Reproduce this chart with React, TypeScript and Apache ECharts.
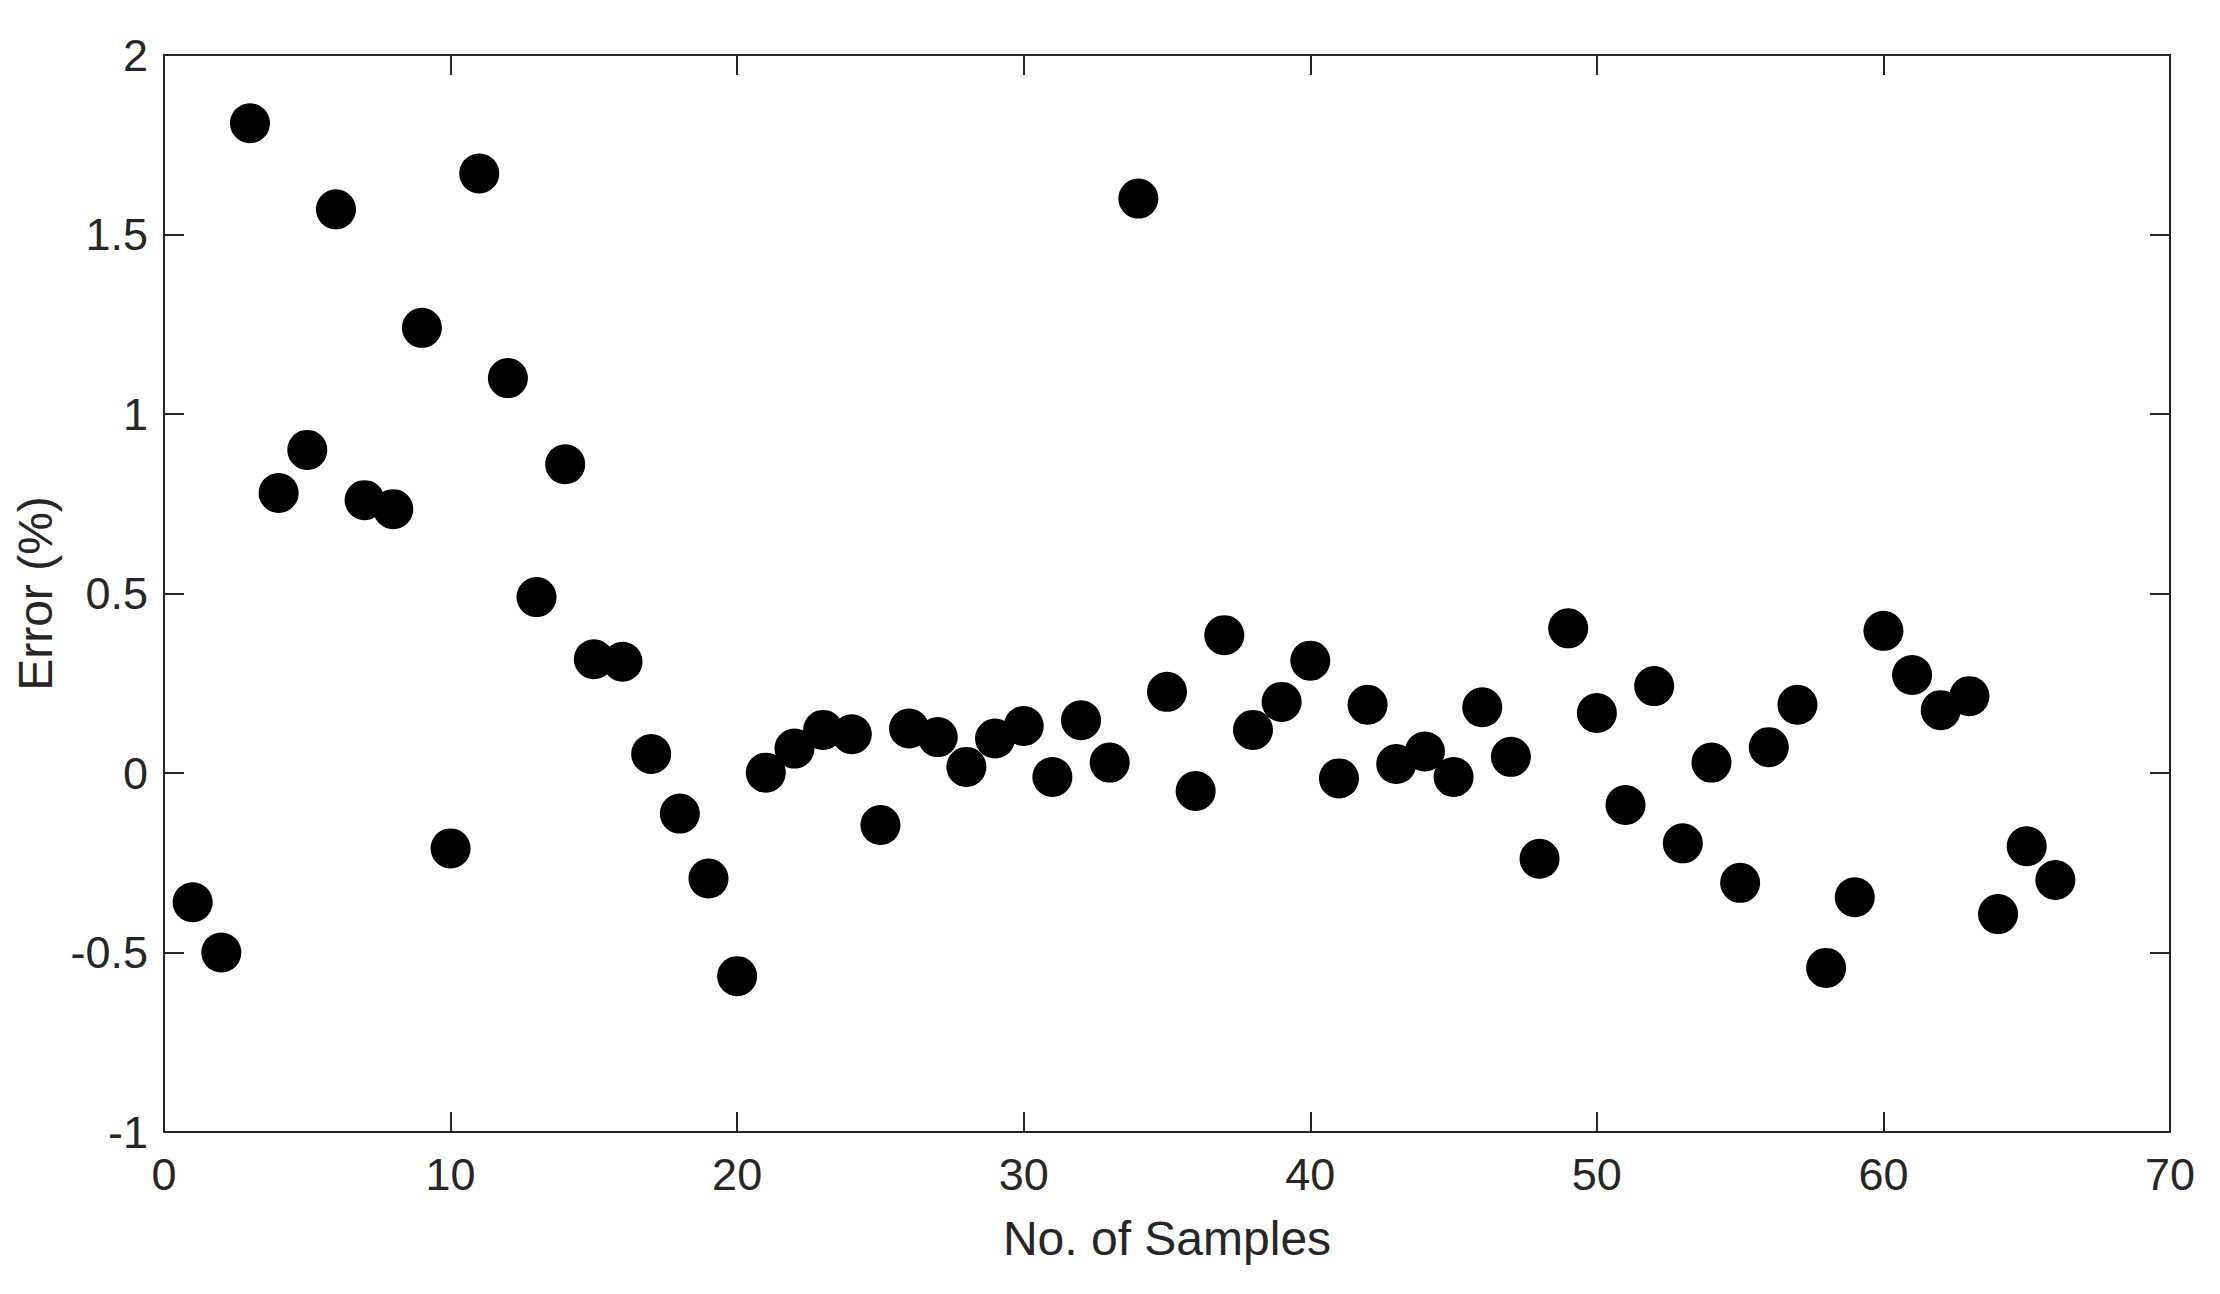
import React, { useEffect, useRef } from "react";
import * as echarts from "echarts";

const sampleNo: number[] = [
  1, 2, 3, 4, 5, 6, 7, 8, 9, 10, 11, 12, 13, 14, 15, 16, 17, 18, 19, 20, 21, 22,
  23, 24, 25, 26, 27, 28, 29, 30, 31, 32, 33, 34, 35, 36, 37, 38, 39, 40, 41, 42,
  43, 44, 45, 46, 47, 48, 49, 50, 51, 52, 53, 54, 55, 56, 57, 58, 59, 60, 61, 62,
  63, 64, 65, 66,
];

const errorPct: number[] = [
  -0.36, -0.5, 1.81, 0.78, 0.9, 1.57, 0.76, 0.735, 1.24, -0.21, 1.67, 1.1,
  0.49, 0.86, 0.317, 0.31, 0.053, -0.113, -0.294, -0.566, 0.001, 0.068, 0.12,
  0.108, -0.145, 0.124, 0.1, 0.017, 0.096, 0.131, -0.011, 0.147, 0.029, 1.6,
  0.226, -0.05, 0.384, 0.12, 0.198, 0.313, -0.015, 0.19, 0.025, 0.06, -0.011,
  0.183, 0.045, -0.239, 0.403, 0.167, -0.089, 0.242, -0.196, 0.029, -0.306,
  0.072, 0.19, -0.543, -0.346, 0.396, 0.273, 0.175, 0.214, -0.393, -0.204,
  -0.298,
];

const xRange = { min: 0, max: 70, interval: 10 };
const yRange = { min: -1, max: 2, interval: 0.5 };

const FONT = "'Liberation Sans', Arial, Helvetica, sans-serif";
const INK = "#262626";

export default function App() {
  const ref = useRef<HTMLDivElement>(null);

  useEffect(() => {
    if (!ref.current) return;
    const chart = echarts.init(ref.current, undefined, { renderer: "svg" });

    const axisLine = { show: true, onZero: false, lineStyle: { color: INK, width: 2 } };
    const axisTick = { show: true, inside: true, length: 20, lineStyle: { color: INK, width: 2 } };

    chart.setOption({
      animation: false,
      backgroundColor: "#ffffff",
      grid: { left: 164, top: 55, right: 50, bottom: 162, containLabel: false },
      xAxis: [
        {
          type: "value",
          position: "bottom",
          min: xRange.min,
          max: xRange.max,
          interval: xRange.interval,
          name: "No. of Samples",
          nameLocation: "middle",
          nameGap: 82,
          nameTextStyle: { color: INK, fontSize: 48, fontFamily: FONT },
          axisLine,
          axisTick,
          splitLine: { show: false },
          axisLabel: { color: INK, fontSize: 45, fontFamily: FONT, margin: 20 },
        },
        {
          type: "value",
          position: "top",
          min: xRange.min,
          max: xRange.max,
          interval: xRange.interval,
          axisLine,
          axisTick,
          splitLine: { show: false },
          axisLabel: { show: false },
        },
      ],
      yAxis: [
        {
          type: "value",
          position: "left",
          min: yRange.min,
          max: yRange.max,
          interval: yRange.interval,
          name: "Error (%)",
          nameLocation: "middle",
          nameGap: 98,
          nameTextStyle: { color: INK, fontSize: 48, fontFamily: FONT },
          axisLine,
          axisTick,
          splitLine: { show: false },
          axisLabel: { color: INK, fontSize: 45, fontFamily: FONT, margin: 16 },
        },
        {
          type: "value",
          position: "right",
          min: yRange.min,
          max: yRange.max,
          interval: yRange.interval,
          axisLine,
          axisTick,
          splitLine: { show: false },
          axisLabel: { show: false },
        },
      ],
      series: [
        {
          type: "scatter",
          xAxisIndex: 0,
          yAxisIndex: 0,
          symbol: "circle",
          symbolSize: 40,
          itemStyle: { color: "#000000", opacity: 1 },
          data: sampleNo.map((x, i) => [x, errorPct[i]]),
        },
      ],
    });

    return () => chart.dispose();
  }, []);

  return (
    <div
      ref={ref}
      style={{ position: "fixed", left: 0, top: 0, width: 2220, height: 1294, background: "#fff" }}
    />
  );
}
